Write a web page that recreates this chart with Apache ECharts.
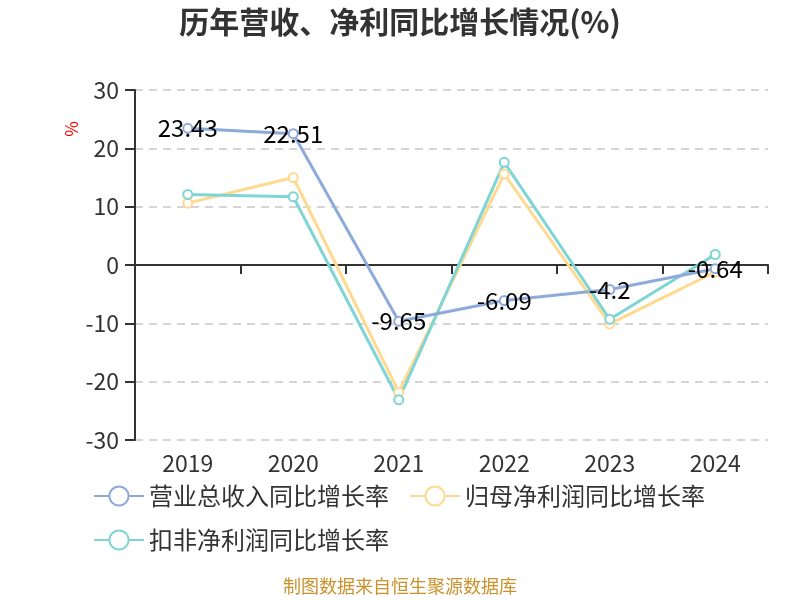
<!DOCTYPE html>
<html>
<head>
<meta charset="utf-8">
<script src="https://cdn.jsdelivr.net/npm/echarts@6/dist/echarts.min.js"></script>
<style>html,body{margin:0;padding:0;background:#fff;}#main{width:800px;height:600px;}</style>
</head>
<body>
<div id="main"></div>
<script>
const categories = ['2019', '2020', '2021', '2022', '2023', '2024'];
const revenueGrowth = [23.43, 22.51, -9.65, -6.09, -4.2, -0.64];
const netProfitGrowth = [10.6, 15.0, -21.8, 15.6, -10.1, -1.2];
const deductedProfitGrowth = [12.1, 11.7, -23.1, 17.6, -9.3, 1.8];
const seriesNames = ['营业总收入同比增长率', '归母净利润同比增长率', '扣非净利润同比增长率'];
const yTicks = { min: -30, max: 30, interval: 10 };

const FONT = '"Noto Sans CJK SC", "Noto Sans", sans-serif';
const chart = echarts.init(document.getElementById('main'));
chart.setOption({
  backgroundColor: '#fff',
  textStyle: { fontFamily: FONT },
  title: {
    text: '历年营收、净利同比增长情况(%)',
    left: 'center', top: 2,
    textStyle: { fontSize: 30, fontWeight: 'bold', color: '#333', fontFamily: FONT }
  },
  color: ['#8eaadb', '#ffd98f', '#7fd4d4'],
  legend: {
    left: 88, top: 479, width: 680,
    itemWidth: 50, itemHeight: 24, itemGap: 20,
    textStyle: { fontSize: 24, color: '#333', fontFamily: FONT },
    data: seriesNames
  },
  grid: { left: 135, right: 32, top: 90, bottom: 160 },
  xAxis: [{
    type: 'category', data: categories, boundaryGap: true,
    axisLine: { onZero: true, lineStyle: { color: '#333', width: 2 } },
    axisTick: { show: true, alignWithLabel: false, length: 9, lineStyle: { color: '#333', width: 2 } },
    axisLabel: { show: false }
  }, {
    type: 'category', data: categories, boundaryGap: true, position: 'bottom',
    axisLine: { show: false, onZero: false }, axisTick: { show: false },
    axisLabel: { fontSize: 23, color: '#333', margin: 12, fontFamily: FONT }
  }],
  yAxis: {
    type: 'value', min: yTicks.min, max: yTicks.max, interval: yTicks.interval,
    axisLine: { show: true, lineStyle: { color: '#333', width: 2 } },
    axisTick: { show: true, length: 10, lineStyle: { color: '#333', width: 2 } },
    axisLabel: { fontSize: 23, color: '#333', margin: 16, fontFamily: FONT },
    splitLine: { lineStyle: { type: [8, 6], color: '#c8c8c8', width: 1.5 } }
  },
  graphic: [{
    type: 'text', left: 63, top: 121, rotation: Math.PI / 2,
    style: { text: '%', fill: '#ff0000', fontSize: 17, fontFamily: FONT }
  }, {
    type: 'text', left: 'center', top: 577,
    style: { text: '制图数据来自恒生聚源数据库', fill: '#c9922c', fontSize: 18, fontFamily: FONT }
  }],
  series: [{
    name: seriesNames[0], type: 'line', data: revenueGrowth,
    symbol: 'emptyCircle', symbolSize: 9, lineStyle: { width: 3 },
    label: { show: true, position: 'inside', fontSize: 24, color: '#000', fontFamily: FONT },
    z: 3
  }, {
    name: seriesNames[1], type: 'line', data: netProfitGrowth,
    symbol: 'emptyCircle', symbolSize: 9, lineStyle: { width: 3 }, z: 2
  }, {
    name: seriesNames[2], type: 'line', data: deductedProfitGrowth,
    symbol: 'emptyCircle', symbolSize: 9, lineStyle: { width: 3 }, z: 2
  }]
});
</script>
</body>
</html>
